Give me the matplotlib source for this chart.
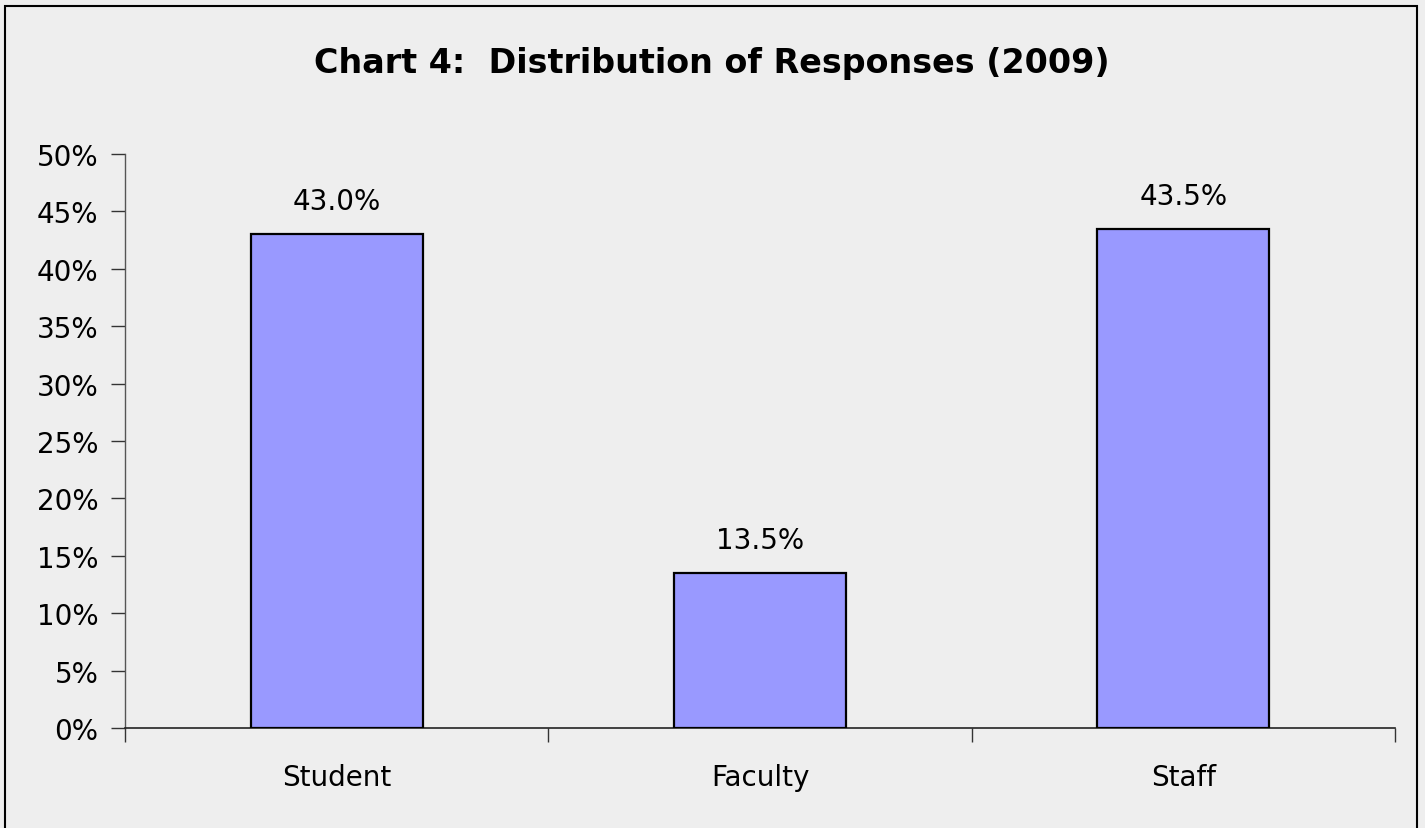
import matplotlib
matplotlib.use("Agg")
import matplotlib.pyplot as plt
from matplotlib.patches import Rectangle
from matplotlib.ticker import FixedLocator, PercentFormatter

categories = ["Student", "Faculty", "Staff"]
values = [43.0, 13.5, 43.5]
y_ticks = [0, 5, 10, 15, 20, 25, 30, 35, 40, 45, 50]
title = "Chart 4:  Distribution of Responses (2009)"

bg = "#EEEEEE"
bar_color = "#9999FF"

fig = plt.figure(figsize=(14.25, 8.29), dpi=100, facecolor=bg)
fig.patches.append(Rectangle((5/1425, -0.01), (1417-5)/1425, 1 - 7/829 + 0.01,
                             transform=fig.transFigure, fill=False,
                             edgecolor="black", linewidth=1.5))
ax = fig.add_axes([125/1425, 100/829, 1270/1425, 574/829])
ax.set_facecolor(bg)

x = list(range(len(categories)))
ax.bar(x, values, width=0.406, color=bar_color, edgecolor="black", linewidth=1.6, zorder=3)
for xi, v in zip(x, values):
    ax.annotate(f"{v:.1f}%", (xi, v), xytext=(0, 18), textcoords="offset points",
                ha="center", va="baseline", fontsize=20,
                family="DejaVu Sans", color="black")

ax.set_xlim(-0.5, len(categories) - 0.5)
ax.set_ylim(0, 50)
ax.yaxis.set_major_locator(FixedLocator(y_ticks))
ax.yaxis.set_major_formatter(PercentFormatter(decimals=0))
ax.set_xticks([i - 0.5 for i in range(len(categories) + 1)])
ax.set_xticklabels([])
ax.set_xticks(x, minor=True)
ax.set_xticklabels(categories, minor=True)
ax.tick_params(axis="x", which="minor", length=0, pad=25, labelsize=20)
ax.tick_params(axis="x", which="major", length=10, width=1, color="#333333", direction="out")
ax.tick_params(axis="y", length=10, width=1, color="#333333", direction="out", labelsize=20, pad=9)

for s in ["top", "right"]:
    ax.spines[s].set_visible(False)
ax.spines["left"].set_color("#555555")
ax.spines["bottom"].set_color("#222222")
ax.spines["left"].set_linewidth(1)
ax.spines["bottom"].set_linewidth(1.2)

fig.text(712/1425, 1 - 63/829, title, ha="center", va="center", fontsize=24,
         fontweight="bold", family="DejaVu Sans")

fig.savefig("out.png", dpi=100, facecolor=bg)
